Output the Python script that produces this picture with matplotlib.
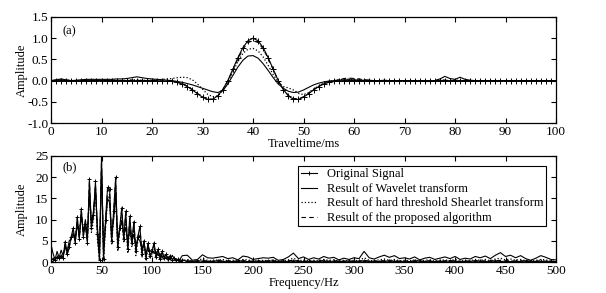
import numpy as np
import matplotlib
matplotlib.use("Agg")
import matplotlib.pyplot as plt

plt.rcParams['font.family'] = ['Liberation Serif', 'DejaVu Serif']
plt.rcParams['axes.unicode_minus'] = False

# (a) time domain, 0..100 ms every 1 ms
traveltime = np.arange(0, 101, 1)

sig_original = [
    0.00, 0.00, 0.00, 0.00, 0.00, 0.00, 0.00, 0.00, 0.00, 0.00,
    0.00, 0.00, 0.00, 0.00, 0.00, 0.00, 0.00, 0.00, 0.00, 0.00,
    0.00, 0.00, -0.01, -0.01, -0.02, -0.04, -0.08, -0.14, -0.22, -0.31,
    -0.39, -0.44, -0.44, -0.36, -0.21, 0.00, 0.27, 0.54, 0.78, 0.94,
    1.00, 0.94, 0.78, 0.54, 0.27, 0.00, -0.21, -0.36, -0.44, -0.44,
    -0.39, -0.31, -0.22, -0.14, -0.08, -0.04, -0.02, -0.01, 0.00, 0.00,
    0.00, 0.00, 0.00, 0.00, 0.00, 0.00, 0.00, 0.00, 0.00, 0.00,
    0.00, 0.00, 0.00, 0.00, 0.00, 0.00, 0.00, 0.00, 0.00, 0.00,
    0.00, 0.00, 0.00, 0.00, 0.00, 0.00, 0.00, 0.00, 0.00, 0.00,
    0.00, 0.00, 0.00, 0.00, 0.00, 0.00, 0.00, 0.00, 0.00, 0.00,
    0.00]

sig_wavelet = [
    0.00, 0.02, 0.04, 0.02, 0.00, 0.01, 0.02, 0.03, 0.03, 0.03,
    0.03, 0.03, 0.03, 0.04, 0.04, 0.05, 0.07, 0.09, 0.07, 0.05,
    0.04, 0.03, 0.02, 0.01, 0.00, -0.02, -0.04, -0.07, -0.10, -0.14,
    -0.18, -0.22, -0.26, -0.28, -0.24, -0.08, 0.12, 0.32, 0.48, 0.58,
    0.59, 0.53, 0.40, 0.24, 0.07, -0.08, -0.18, -0.25, -0.28, -0.27,
    -0.22, -0.16, -0.10, -0.06, -0.03, -0.01, 0.00, 0.01, 0.02, 0.02,
    0.02, 0.01, 0.01, 0.01, 0.00, 0.00, 0.01, 0.00, 0.00, 0.00,
    0.00, 0.00, -0.01, -0.01, -0.02, -0.02, 0.00, 0.04, 0.10, 0.05,
    0.03, 0.08, 0.03, 0.01, 0.00, 0.00, 0.00, 0.00, 0.00, 0.00,
    0.00, 0.00, 0.00, 0.00, 0.00, 0.00, 0.00, 0.00, 0.00, 0.00,
    0.00]

sig_shearlet = [
    0.00, 0.01, 0.02, 0.01, 0.00, 0.00, 0.01, 0.01, 0.00, 0.00,
    0.00, 0.01, 0.01, 0.01, 0.00, 0.01, 0.02, 0.02, 0.01, 0.01,
    0.01, 0.02, 0.03, 0.04, 0.05, 0.07, 0.08, 0.07, 0.02, -0.08,
    -0.20, -0.32, -0.38, -0.36, -0.24, -0.04, 0.20, 0.45, 0.64, 0.74,
    0.76, 0.70, 0.56, 0.36, 0.14, -0.04, -0.14, -0.17, -0.22, -0.30,
    -0.33, -0.28, -0.20, -0.12, -0.06, -0.02, 0.00, 0.02, 0.03, 0.04,
    0.03, 0.02, 0.01, 0.00, 0.00, 0.00, 0.00, 0.00, 0.00, 0.00,
    0.00, 0.00, 0.00, 0.00, -0.01, -0.01, 0.00, 0.01, 0.01, 0.00,
    0.01, 0.01, 0.00, 0.00, 0.00, 0.00, 0.00, 0.00, 0.00, 0.00,
    0.00, 0.00, 0.00, 0.00, 0.00, 0.00, 0.00, 0.00, 0.00, 0.00,
    0.00]

sig_proposed = [
    0.00, 0.01, 0.02, 0.01, 0.00, 0.00, 0.00, 0.00, 0.00, 0.00,
    0.00, 0.00, 0.00, 0.00, 0.00, 0.00, 0.01, 0.01, 0.00, 0.00,
    0.00, 0.00, -0.01, -0.01, -0.02, -0.04, -0.07, -0.13, -0.21, -0.30,
    -0.38, -0.43, -0.44, -0.37, -0.22, -0.01, 0.25, 0.51, 0.74, 0.90,
    0.94, 0.90, 0.75, 0.52, 0.26, 0.00, -0.20, -0.35, -0.42, -0.43,
    -0.38, -0.30, -0.21, -0.13, -0.07, -0.03, -0.01, 0.02, 0.05, 0.06,
    0.05, 0.04, 0.02, 0.01, 0.00, 0.00, 0.00, 0.00, 0.00, 0.00,
    0.00, 0.00, 0.00, 0.00, -0.01, -0.01, 0.00, 0.01, 0.01, 0.00,
    0.00, 0.00, 0.00, 0.00, 0.00, 0.00, 0.00, 0.00, 0.00, 0.00,
    0.00, 0.00, 0.00, 0.00, 0.00, 0.00, 0.00, 0.00, 0.00, 0.00,
    0.00]

# (b) spectra: low band 0..130 Hz every 2 Hz, high band 135..500 Hz every 5 Hz
freq_low = np.arange(0, 131, 2)
freq_high = np.arange(135, 501, 5)

spec_original_low = [
    0.3, 0.8, 0.5, 1.2, 0.9, 1.5, 1.0, 4.8, 1.8, 3.5,
    6.0, 8.0, 4.5, 10.6, 5.5, 12.6, 6.0, 9.0, 4.5, 19.6,
    8.0, 11.0, 19.0, 6.5, 0.5, 25.0, 0.8, 10.0, 17.6, 17.2,
    5.0, 12.0, 20.0, 3.5, 8.0, 12.8, 5.5, 12.0, 3.0, 10.8,
    4.5, 9.5, 2.5, 6.0, 8.4, 2.0, 5.0, 1.0, 4.4, 1.5,
    2.5, 4.5, 1.2, 3.0, 0.8, 2.5, 1.0, 1.8, 0.6, 1.5,
    0.5, 1.0, 0.4, 0.7, 0.3, 0.5]
spec_original_high = [
    0.2, 0.1, 0.3, 0.2, 0.1, 0.2, 0.3, 0.1, 0.2, 0.1,
    0.3, 0.2, 0.1, 0.2, 0.2, 0.1, 0.3, 0.2, 0.1, 0.2,
    0.1, 0.3, 0.2, 0.1, 0.2, 0.1, 0.2, 0.3, 0.1, 0.2,
    0.2, 0.1, 0.3, 0.1, 0.2, 0.3, 0.1, 0.2, 0.1, 0.2,
    0.3, 0.2, 0.1, 0.2, 0.1, 0.2, 0.3, 0.1, 0.2, 0.1,
    0.2, 0.1, 0.3, 0.2, 0.1, 0.2, 0.1, 0.3, 0.2, 0.1,
    0.2, 0.3, 0.1, 0.2, 0.1, 0.2, 0.1, 0.3, 0.2, 0.1,
    0.2, 0.1, 0.2, 0.1]

spec_wavelet_low = [
    4.2, 2.0, 0.6, 2.5, 1.0, 2.8, 1.5, 3.5, 2.5, 5.0,
    5.5, 6.5, 5.0, 9.0, 6.0, 11.0, 7.0, 10.0, 6.0, 16.0,
    9.0, 12.0, 17.0, 8.0, 3.0, 22.0, 3.0, 9.0, 15.0, 14.0,
    6.0, 10.0, 16.0, 5.0, 8.0, 9.5, 6.5, 8.0, 5.0, 7.5,
    5.0, 6.5, 4.0, 5.5, 5.0, 3.0, 4.5, 2.0, 3.5, 2.5,
    3.0, 2.0, 2.5, 1.5, 2.0, 1.0, 1.5, 0.8, 1.2, 0.5,
    1.6, 0.8, 0.5, 0.3, 0.8, 1.5]
spec_wavelet_high = [
    1.6, 0.4, 0.6, 1.7, 1.0, 0.9, 1.1, 1.3, 0.8, 1.0,
    0.5, 1.4, 1.2, 0.6, 0.8, 1.0, 0.9, 1.1, 0.4, 0.6,
    1.2, 2.1, 0.8, 1.2, 0.6, 1.0, 0.7, 1.3, 0.9, 1.1,
    0.5, 0.9, 0.6, 1.0, 0.8, 2.5, 1.0, 0.7, 1.2, 1.6,
    1.1, 1.5, 0.8, 1.0, 0.7, 1.2, 0.5, 0.9, 1.1, 0.6,
    0.9, 1.2, 0.8, 1.3, 0.6, 0.9, 0.7, 1.3, 1.0, 1.4,
    0.8, 1.6, 2.2, 1.3, 1.6, 1.0, 1.5, 0.8, 0.4, 0.9,
    1.5, 1.1, 0.6, 0.5]

spec_shearlet_low = [
    0.5, 0.3, 1.0, 0.6, 1.4, 0.8, 1.8, 3.8, 2.0, 4.0,
    5.5, 7.0, 5.0, 9.5, 6.0, 11.5, 7.0, 8.0, 5.0, 17.0,
    7.0, 10.0, 17.5, 5.0, 0.2, 21.0, 0.3, 8.0, 15.0, 16.0,
    4.0, 10.5, 17.0, 2.5, 7.0, 10.0, 4.5, 9.5, 2.0, 8.5,
    3.5, 7.5, 1.5, 5.0, 6.5, 1.0, 4.0, 0.5, 3.0, 1.0,
    1.8, 3.0, 0.8, 2.0, 0.5, 1.5, 0.6, 1.0, 0.3, 0.8,
    0.3, 0.6, 0.2, 0.4, 0.2, 0.3]
spec_shearlet_high = [
    0.6, 0.2, 0.3, 0.8, 0.4, 0.3, 0.5, 0.6, 0.3, 0.4,
    0.2, 0.6, 0.5, 0.2, 0.3, 0.4, 0.3, 0.5, 0.2, 0.3,
    0.5, 0.9, 0.3, 0.5, 0.2, 0.4, 0.3, 0.6, 0.4, 0.5,
    0.2, 0.4, 0.2, 0.4, 0.3, 1.0, 0.4, 0.3, 0.5, 0.7,
    0.4, 0.6, 0.3, 0.4, 0.3, 0.5, 0.2, 0.4, 0.5, 0.2,
    0.4, 0.5, 0.3, 0.6, 0.2, 0.4, 0.3, 0.6, 0.4, 0.6,
    0.3, 0.7, 0.9, 0.5, 0.7, 0.4, 0.6, 0.3, 0.2, 0.4,
    0.6, 0.5, 0.2, 0.2]

spec_proposed_low = [
    0.4, 0.7, 0.6, 1.1, 1.0, 1.4, 1.1, 4.5, 1.9, 3.4,
    5.8, 7.6, 4.6, 10.2, 5.6, 12.0, 6.2, 8.8, 4.8, 18.8,
    8.2, 10.8, 18.2, 6.6, 0.8, 24.0, 1.0, 9.6, 17.0, 16.6,
    5.2, 11.6, 19.2, 3.8, 7.8, 12.2, 5.6, 11.4, 3.2, 10.2,
    4.6, 9.0, 2.8, 5.8, 8.0, 2.2, 4.8, 1.2, 4.2, 1.6,
    2.4, 4.2, 1.3, 2.8, 0.9, 2.3, 1.0, 1.7, 0.6, 1.4,
    0.5, 0.9, 0.4, 0.6, 0.3, 0.4]
spec_proposed_high = [
    0.3, 0.2, 0.2, 0.4, 0.2, 0.1, 0.3, 0.3, 0.2, 0.2,
    0.1, 0.3, 0.3, 0.1, 0.2, 0.2, 0.2, 0.3, 0.1, 0.2,
    0.3, 0.4, 0.2, 0.3, 0.1, 0.2, 0.2, 0.3, 0.2, 0.3,
    0.1, 0.2, 0.1, 0.2, 0.2, 0.4, 0.2, 0.2, 0.3, 0.3,
    0.2, 0.3, 0.2, 0.2, 0.2, 0.3, 0.1, 0.2, 0.3, 0.1,
    0.2, 0.3, 0.2, 0.3, 0.1, 0.2, 0.2, 0.3, 0.2, 0.3,
    0.2, 0.3, 0.4, 0.3, 0.3, 0.2, 0.3, 0.2, 0.1, 0.2,
    0.3, 0.2, 0.1, 0.1]

legend_labels = ['Original Signal', 'Result of Wavelet transform',
                 'Result of hard threshold Shearlet transform',
                 'Result of the proposed algorithm']

freq = np.concatenate([freq_low, freq_high])
spec_original = spec_original_low + spec_original_high
spec_wavelet = spec_wavelet_low + spec_wavelet_high
spec_shearlet = spec_shearlet_low + spec_shearlet_high
spec_proposed = spec_proposed_low + spec_proposed_high

FS = 9        # labels / legend
FS_TICK = 9.5  # tick labels


def style_axes(ax):
    ax.tick_params(direction='in', top=True, right=True, length=3.5,
                   width=0.8, labelsize=FS_TICK, pad=2)
    for sp in ax.spines.values():
        sp.set_linewidth(0.9)
    ax.yaxis.set_label_coords(-0.045, 0.5)


def draw_series(ax, x, orig, wav, shear, prop, ms):
    ax.plot(x, orig, color='black', lw=0.8, marker='+', markersize=ms,
            markeredgewidth=0.7, label=legend_labels[0])
    ax.plot(x, wav, color='black', lw=0.8, label=legend_labels[1])
    ax.plot(x, shear, color='black', lw=0.9, ls=':', label=legend_labels[2])
    ax.plot(x, prop, color='black', lw=0.8, ls=(0, (4, 3)), label=legend_labels[3])


fig = plt.figure(figsize=(6.06, 2.93), dpi=100)

# panel (a)
ax1 = fig.add_axes([0.0842, 0.580, 0.8333, 0.362])
draw_series(ax1, traveltime, sig_original, sig_wavelet, sig_shearlet, sig_proposed, 4)
ax1.set_xlim(0, 100)
ax1.set_ylim(-1.0, 1.5)
ax1.set_xticks(np.arange(0, 101, 10))
ax1.set_yticks(np.arange(-1.0, 1.51, 0.5))
ax1.yaxis.set_major_formatter(matplotlib.ticker.FormatStrFormatter('%.1f'))
ax1.set_xlabel('Traveltime/ms', fontsize=FS, labelpad=0)
ax1.set_ylabel('Amplitude', fontsize=FS)
ax1.text(0.022, 0.87, '(a)', transform=ax1.transAxes, fontsize=FS, va='center')
style_axes(ax1)

# panel (b)
ax2 = fig.add_axes([0.0842, 0.1058, 0.8333, 0.3618])
draw_series(ax2, freq, spec_original, spec_wavelet, spec_shearlet, spec_proposed, 3.5)
ax2.set_xlim(0, 500)
ax2.set_ylim(0, 25)
ax2.set_xticks(np.arange(0, 501, 50))
ax2.set_yticks(np.arange(0, 26, 5))
ax2.set_xlabel('Frequency/Hz', fontsize=FS, labelpad=0)
ax2.set_ylabel('Amplitude', fontsize=FS)
ax2.text(0.022, 0.89, '(b)', transform=ax2.transAxes, fontsize=FS, va='center')
style_axes(ax2)

leg = ax2.legend(loc='upper right', bbox_to_anchor=(0.98, 0.906), fontsize=FS,
                 frameon=True, fancybox=False, framealpha=1, edgecolor='black',
                 borderaxespad=0, handlelength=1.3, handletextpad=0.8,
                 labelspacing=0.2, borderpad=0.2)
leg.get_frame().set_linewidth(0.8)

fig.savefig('out.png', dpi=100)
